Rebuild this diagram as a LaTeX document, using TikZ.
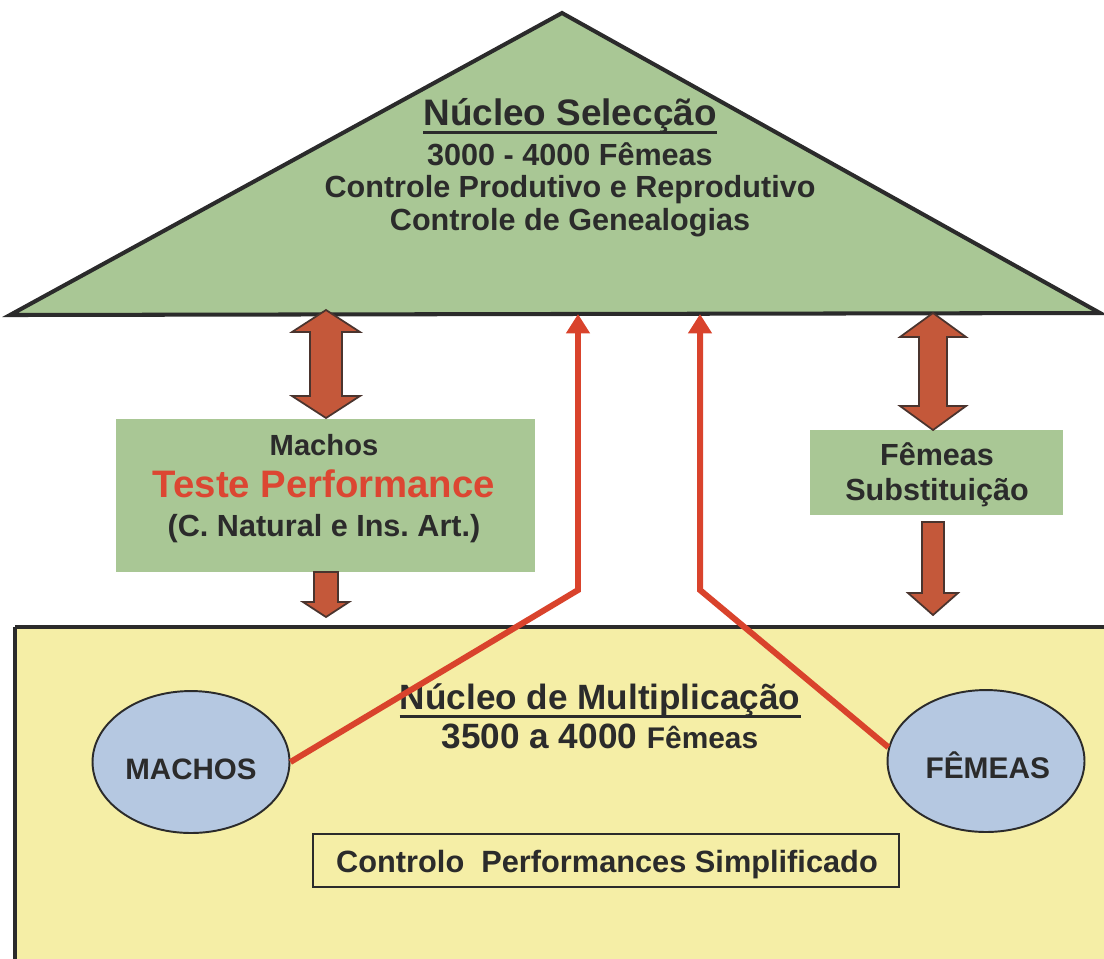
\documentclass[tikz,border=0pt]{standalone}
\usepackage{fontspec}
\setmainfont{Liberation Sans}
\usetikzlibrary{arrows.meta, positioning, shapes.geometric}
\definecolor{selGreen}{HTML}{A9C795}
\definecolor{multYellow}{HTML}{F5EEA6}
\definecolor{ovalBlue}{HTML}{B5C8E1}
\definecolor{arrowBrown}{HTML}{C4583A}
\definecolor{lineRed}{HTML}{D9432C}
\definecolor{inkGray}{HTML}{2B2B2B}
\definecolor{testRed}{HTML}{DC4632}
\frenchspacing

\tikzset{
  txt/.style={inner sep=0pt, text=inkGray, font=\bfseries},
  blockarrow/.style={fill=arrowBrown, draw=inkGray!80!arrowBrown, line width=1pt, line join=miter},
  redline/.style={lineRed, line width=3.4pt, -{Triangle[length=11pt,width=13pt]}},
  uline/.style={inkGray, line width=1.7pt},
  oval/.style={ellipse, draw=inkGray, line width=1.1pt, fill=ovalBlue, minimum width=3.94cm, minimum height=2.84cm, inner sep=0pt}
}
\newcommand{\fsz}[1]{\fontsize{#1pt}{#1pt}\selectfont}
% x, y top tip, y bottom tip, shaft half width, head half width, head length
\newcommand{\dblblock}[6]{%
  \filldraw[blockarrow] (#1,#2) -- (#1+#5,#2+#6) -- (#1+#4,#2+#6) -- (#1+#4,#3-#6) -- (#1+#5,#3-#6)
    -- (#1,#3) -- (#1-#5,#3-#6) -- (#1-#4,#3-#6) -- (#1-#4,#2+#6) -- (#1-#5,#2+#6) -- cycle;}
\newcommand{\downblock}[6]{%
  \filldraw[blockarrow] (#1-#4,#2) -- (#1+#4,#2) -- (#1+#4,#3-#6) -- (#1+#5,#3-#6)
    -- (#1,#3) -- (#1-#5,#3-#6) -- (#1-#4,#3-#6) -- cycle;}

\begin{document}
\begin{tikzpicture}[x=0.02cm, y=-0.02cm]
  \useasboundingbox (0,0) rectangle (1104,958);

  % multiplication block
  \fill[multYellow] (15,627) rectangle (1110,965);
  \draw[inkGray, line width=2.8pt] (1110,627) -- (15,627);
  \draw[inkGray, line width=1.8pt] (15,627) -- (15,965);

  % selection triangle
  \filldraw[fill=selGreen, draw=inkGray, line width=2.3pt, line join=miter] (10,315) -- (562,13) -- (1100,313) -- cycle;
  \node[txt, anchor=base] (selTitle) at (570,125) {\fsz{21}Núcleo Selecção};
  \draw[uline] ([yshift=-4.5pt]selTitle.base west) -- ([yshift=-4.5pt]selTitle.base east);
  \node[txt, anchor=base] (selFem) at (570,165) {\fsz{17.4}3000 - 4000 Fêmeas};
  \node[txt, anchor=base] (selProd) at (570,197) {\fsz{17.4}Controle Produtivo e Reprodutivo};
  \node[txt, anchor=base] (selGen) at (570,230) {\fsz{17.4}Controle de Genealogias};

  % side boxes
  \fill[selGreen] (116,419) rectangle (535,572);
  \node[txt, anchor=base] (machosTop) at (324,455) {\fsz{16.6}Machos};
  \node[txt, anchor=base, text=testRed] (teste) at (324,497) {\fsz{21.8}Teste Performance};
  \node[txt, anchor=base] (natural) at (324,536) {\fsz{17.4}(C. Natural e Ins. Art.)};

  \fill[selGreen] (810,430) rectangle (1063,515);
  \node[txt, anchor=base] (femTop) at (937,465) {\fsz{17.4}Fêmeas};
  \node[txt, anchor=base] (subst) at (937,500) {\fsz{17.4}Substituição};

  % block arrows
  \dblblock{326}{310}{418}{16}{34}{22}
  \downblock{326}{572}{617}{12}{23}{15}
  \dblblock{933}{313}{430}{14}{33}{24}
  \downblock{933}{522}{615}{11}{25}{22}

  % multiplication contents
  \node[txt, anchor=base] (multTitle) at (600,709) {\fsz{20}Núcleo de Multiplicação};
  \draw[uline] ([yshift=-4pt]multTitle.base west) -- ([yshift=-4pt]multTitle.base east);
  \node[txt, anchor=base] (multFem) at (600,748) {\fsz{20}3500 a 4000 {\fsz{17}Fêmeas}};

  \node[oval] (machos) at (191,762) {};
  \node[txt, anchor=base] at ([yshift=-10pt]machos.center) {\fsz{16.8}MACHOS};
  \node[oval] (femeas) at (986,761) {};
  \node[txt, anchor=base] at ([yshift=-10pt, xshift=1pt]femeas.center) {\fsz{17}FÊMEAS};

  \node[draw=inkGray, line width=1pt, minimum width=11.72cm, minimum height=1.06cm, inner sep=0pt] (ctrlBox) at (606,860.5) {};
  \node[txt, anchor=base] (ctrl) at (607,872) {\fsz{17.5}Controlo\ \ Performances Simplificado};

  % selection flows
  \coordinate (bendL) at (578,590);
  \coordinate (tipL) at (578,314);
  \coordinate (bendR) at (700,590);
  \coordinate (tipR) at (700,314);
  \draw[redline] (machos.east) -- (bendL) -- (tipL);
  \draw[redline] (femeas.172) -- (bendR) -- (tipR);
\end{tikzpicture}
\end{document}
